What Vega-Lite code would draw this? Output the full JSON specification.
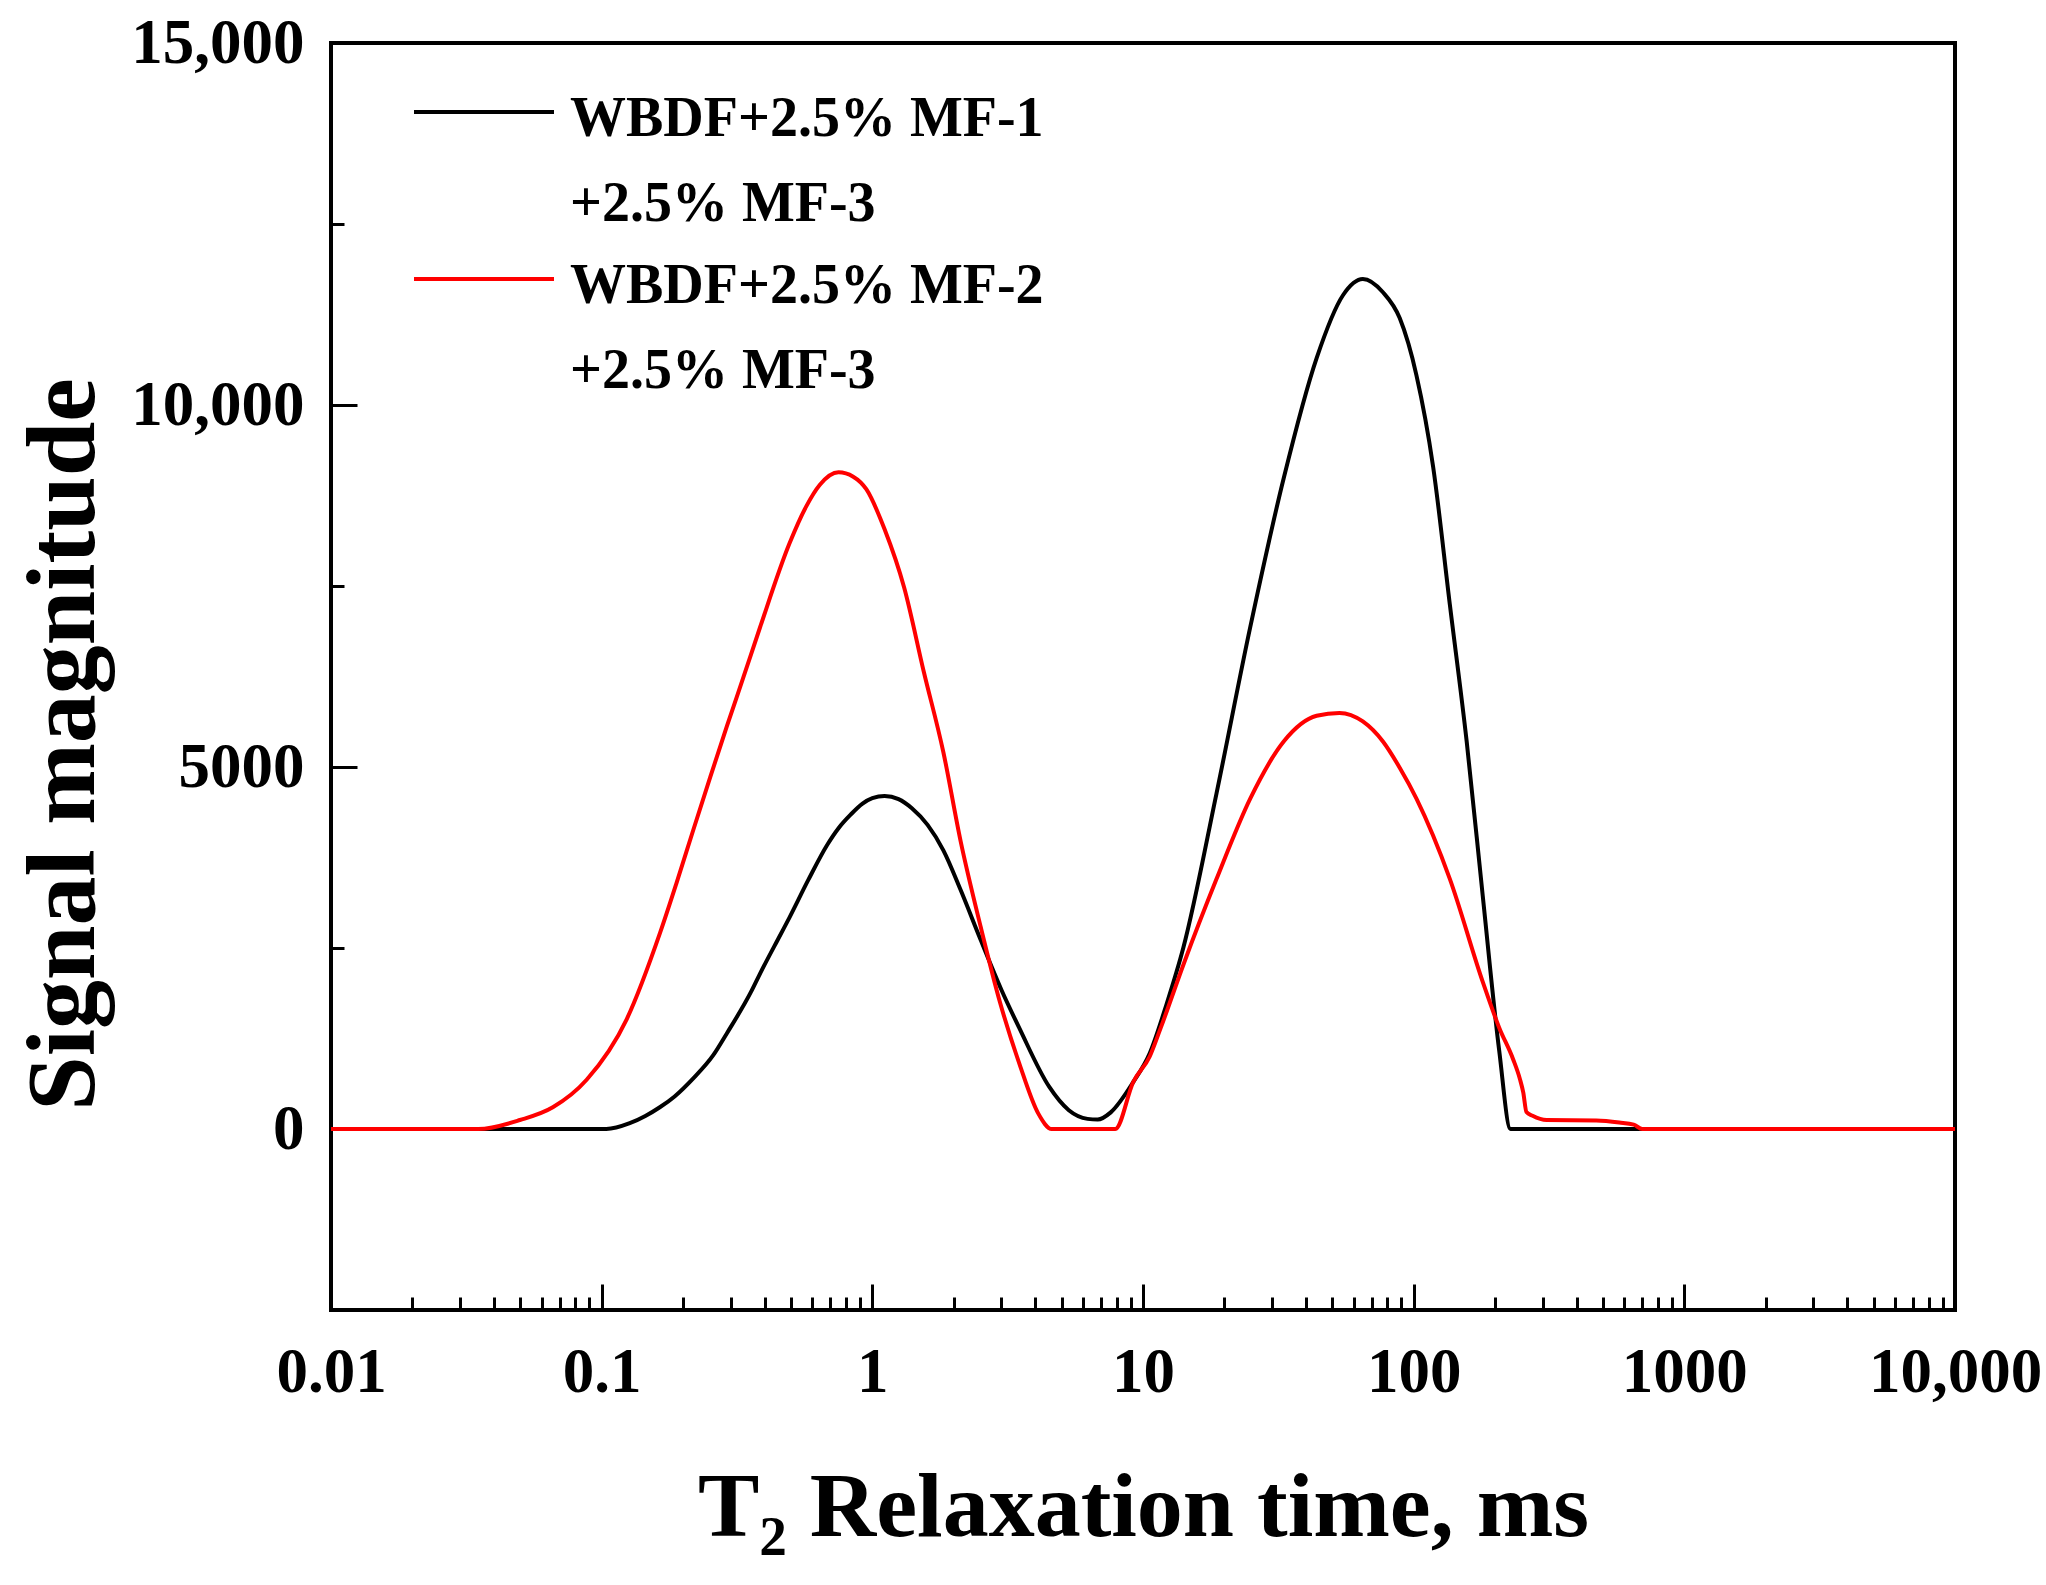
{
  "$schema": "https://vega.github.io/schema/vega-lite/v6.json",
  "autosize": "none",
  "width": 1624,
  "height": 1267,
  "padding": {"left": 331, "top": 43, "right": 91, "bottom": 275},
  "background": "white",
  "config": {
    "font": "Liberation Serif",
    "view": {"stroke": "black", "strokeWidth": 4},
    "style": {"guide-label": {"lineHeight": 85}},
    "axis": {
      "grid": false,
      "domain": false,
      "tickColor": "black",
      "tickWidth": 3,
      "labelFont": "Liberation Serif",
      "labelFontWeight": "bold",
      "labelFontSize": 63,
      "labelColor": "black",
      "labelFlush": false,
      "labelOverlap": false,
      "titleFont": "Liberation Serif",
      "titleFontWeight": "bold",
      "titleColor": "black"
    },
    "legend": {
      "labelFont": "Liberation Serif",
      "labelFontWeight": "bold",
      "labelFontSize": 56,
      "labelColor": "black"
    }
  },
  "data": {
    "values": [
      {"t": 0.01, "s": 0, "series": "WBDF+2.5% MF-1 +2.5% MF-3"},
      {"t": 0.05, "s": 0, "series": "WBDF+2.5% MF-1 +2.5% MF-3"},
      {"t": 0.104, "s": 0, "series": "WBDF+2.5% MF-1 +2.5% MF-3"},
      {"t": 0.127, "s": 80, "series": "WBDF+2.5% MF-1 +2.5% MF-3"},
      {"t": 0.145, "s": 180, "series": "WBDF+2.5% MF-1 +2.5% MF-3"},
      {"t": 0.164, "s": 300, "series": "WBDF+2.5% MF-1 +2.5% MF-3"},
      {"t": 0.186, "s": 450, "series": "WBDF+2.5% MF-1 +2.5% MF-3"},
      {"t": 0.218, "s": 700, "series": "WBDF+2.5% MF-1 +2.5% MF-3"},
      {"t": 0.258, "s": 1016, "series": "WBDF+2.5% MF-1 +2.5% MF-3"},
      {"t": 0.29, "s": 1320, "series": "WBDF+2.5% MF-1 +2.5% MF-3"},
      {"t": 0.357, "s": 1900, "series": "WBDF+2.5% MF-1 +2.5% MF-3"},
      {"t": 0.384, "s": 2140, "series": "WBDF+2.5% MF-1 +2.5% MF-3"},
      {"t": 0.457, "s": 2680, "series": "WBDF+2.5% MF-1 +2.5% MF-3"},
      {"t": 0.494, "s": 2920, "series": "WBDF+2.5% MF-1 +2.5% MF-3"},
      {"t": 0.58, "s": 3440, "series": "WBDF+2.5% MF-1 +2.5% MF-3"},
      {"t": 0.68, "s": 3920, "series": "WBDF+2.5% MF-1 +2.5% MF-3"},
      {"t": 0.75, "s": 4155, "series": "WBDF+2.5% MF-1 +2.5% MF-3"},
      {"t": 0.833, "s": 4345, "series": "WBDF+2.5% MF-1 +2.5% MF-3"},
      {"t": 0.92, "s": 4494, "series": "WBDF+2.5% MF-1 +2.5% MF-3"},
      {"t": 1.0, "s": 4570, "series": "WBDF+2.5% MF-1 +2.5% MF-3"},
      {"t": 1.11, "s": 4600, "series": "WBDF+2.5% MF-1 +2.5% MF-3"},
      {"t": 1.25, "s": 4556, "series": "WBDF+2.5% MF-1 +2.5% MF-3"},
      {"t": 1.4, "s": 4430, "series": "WBDF+2.5% MF-1 +2.5% MF-3"},
      {"t": 1.6, "s": 4200, "series": "WBDF+2.5% MF-1 +2.5% MF-3"},
      {"t": 1.83, "s": 3849, "series": "WBDF+2.5% MF-1 +2.5% MF-3"},
      {"t": 2.12, "s": 3300, "series": "WBDF+2.5% MF-1 +2.5% MF-3"},
      {"t": 2.51, "s": 2617, "series": "WBDF+2.5% MF-1 +2.5% MF-3"},
      {"t": 3.0, "s": 1920, "series": "WBDF+2.5% MF-1 +2.5% MF-3"},
      {"t": 3.5, "s": 1386, "series": "WBDF+2.5% MF-1 +2.5% MF-3"},
      {"t": 4.5, "s": 585, "series": "WBDF+2.5% MF-1 +2.5% MF-3"},
      {"t": 5.32, "s": 260, "series": "WBDF+2.5% MF-1 +2.5% MF-3"},
      {"t": 6.24, "s": 140, "series": "WBDF+2.5% MF-1 +2.5% MF-3"},
      {"t": 6.8, "s": 130, "series": "WBDF+2.5% MF-1 +2.5% MF-3"},
      {"t": 7.6, "s": 230, "series": "WBDF+2.5% MF-1 +2.5% MF-3"},
      {"t": 9.2, "s": 647, "series": "WBDF+2.5% MF-1 +2.5% MF-3"},
      {"t": 10.6, "s": 1050, "series": "WBDF+2.5% MF-1 +2.5% MF-3"},
      {"t": 12.2, "s": 1716, "series": "WBDF+2.5% MF-1 +2.5% MF-3"},
      {"t": 14.1, "s": 2506, "series": "WBDF+2.5% MF-1 +2.5% MF-3"},
      {"t": 18.7, "s": 4640, "series": "WBDF+2.5% MF-1 +2.5% MF-3"},
      {"t": 24.9, "s": 6932, "series": "WBDF+2.5% MF-1 +2.5% MF-3"},
      {"t": 33.1, "s": 8988, "series": "WBDF+2.5% MF-1 +2.5% MF-3"},
      {"t": 43.8, "s": 10648, "series": "WBDF+2.5% MF-1 +2.5% MF-3"},
      {"t": 54.8, "s": 11516, "series": "WBDF+2.5% MF-1 +2.5% MF-3"},
      {"t": 64.9, "s": 11740, "series": "WBDF+2.5% MF-1 +2.5% MF-3"},
      {"t": 77, "s": 11557, "series": "WBDF+2.5% MF-1 +2.5% MF-3"},
      {"t": 88.8, "s": 11200, "series": "WBDF+2.5% MF-1 +2.5% MF-3"},
      {"t": 102.4, "s": 10410, "series": "WBDF+2.5% MF-1 +2.5% MF-3"},
      {"t": 118, "s": 9148, "series": "WBDF+2.5% MF-1 +2.5% MF-3"},
      {"t": 136, "s": 7248, "series": "WBDF+2.5% MF-1 +2.5% MF-3"},
      {"t": 157, "s": 5352, "series": "WBDF+2.5% MF-1 +2.5% MF-3"},
      {"t": 180, "s": 3218, "series": "WBDF+2.5% MF-1 +2.5% MF-3"},
      {"t": 207, "s": 1084, "series": "WBDF+2.5% MF-1 +2.5% MF-3"},
      {"t": 228, "s": 0, "series": "WBDF+2.5% MF-1 +2.5% MF-3"},
      {"t": 1000, "s": 0, "series": "WBDF+2.5% MF-1 +2.5% MF-3"},
      {"t": 10000, "s": 0, "series": "WBDF+2.5% MF-1 +2.5% MF-3"},

      {"t": 0.01, "s": 0, "series": "WBDF+2.5% MF-2 +2.5% MF-3"},
      {"t": 0.035, "s": 0, "series": "WBDF+2.5% MF-2 +2.5% MF-3"},
      {"t": 0.0499, "s": 124, "series": "WBDF+2.5% MF-2 +2.5% MF-3"},
      {"t": 0.066, "s": 300, "series": "WBDF+2.5% MF-2 +2.5% MF-3"},
      {"t": 0.088, "s": 680, "series": "WBDF+2.5% MF-2 +2.5% MF-3"},
      {"t": 0.1237, "s": 1515, "series": "WBDF+2.5% MF-2 +2.5% MF-3"},
      {"t": 0.1643, "s": 2708, "series": "WBDF+2.5% MF-2 +2.5% MF-3"},
      {"t": 0.189, "s": 3396, "series": "WBDF+2.5% MF-2 +2.5% MF-3"},
      {"t": 0.218, "s": 4130, "series": "WBDF+2.5% MF-2 +2.5% MF-3"},
      {"t": 0.252, "s": 4864, "series": "WBDF+2.5% MF-2 +2.5% MF-3"},
      {"t": 0.29, "s": 5560, "series": "WBDF+2.5% MF-2 +2.5% MF-3"},
      {"t": 0.334, "s": 6240, "series": "WBDF+2.5% MF-2 +2.5% MF-3"},
      {"t": 0.384, "s": 6920, "series": "WBDF+2.5% MF-2 +2.5% MF-3"},
      {"t": 0.494, "s": 8086, "series": "WBDF+2.5% MF-2 +2.5% MF-3"},
      {"t": 0.57, "s": 8600, "series": "WBDF+2.5% MF-2 +2.5% MF-3"},
      {"t": 0.64, "s": 8898, "series": "WBDF+2.5% MF-2 +2.5% MF-3"},
      {"t": 0.75, "s": 9070, "series": "WBDF+2.5% MF-2 +2.5% MF-3"},
      {"t": 0.85, "s": 9010, "series": "WBDF+2.5% MF-2 +2.5% MF-3"},
      {"t": 0.95, "s": 8837, "series": "WBDF+2.5% MF-2 +2.5% MF-3"},
      {"t": 1.11, "s": 8283, "series": "WBDF+2.5% MF-2 +2.5% MF-3"},
      {"t": 1.31, "s": 7482, "series": "WBDF+2.5% MF-2 +2.5% MF-3"},
      {"t": 1.55, "s": 6312, "series": "WBDF+2.5% MF-2 +2.5% MF-3"},
      {"t": 1.83, "s": 5204, "series": "WBDF+2.5% MF-2 +2.5% MF-3"},
      {"t": 2.12, "s": 3972, "series": "WBDF+2.5% MF-2 +2.5% MF-3"},
      {"t": 2.51, "s": 2802, "series": "WBDF+2.5% MF-2 +2.5% MF-3"},
      {"t": 2.96, "s": 1755, "series": "WBDF+2.5% MF-2 +2.5% MF-3"},
      {"t": 3.5, "s": 893, "series": "WBDF+2.5% MF-2 +2.5% MF-3"},
      {"t": 4.1, "s": 216, "series": "WBDF+2.5% MF-2 +2.5% MF-3"},
      {"t": 4.6, "s": 0, "series": "WBDF+2.5% MF-2 +2.5% MF-3"},
      {"t": 7.9, "s": 0, "series": "WBDF+2.5% MF-2 +2.5% MF-3"},
      {"t": 9.2, "s": 647, "series": "WBDF+2.5% MF-2 +2.5% MF-3"},
      {"t": 10.6, "s": 1005, "series": "WBDF+2.5% MF-2 +2.5% MF-3"},
      {"t": 11.6, "s": 1386, "series": "WBDF+2.5% MF-2 +2.5% MF-3"},
      {"t": 14.1, "s": 2269, "series": "WBDF+2.5% MF-2 +2.5% MF-3"},
      {"t": 18.7, "s": 3455, "series": "WBDF+2.5% MF-2 +2.5% MF-3"},
      {"t": 24.9, "s": 4563, "series": "WBDF+2.5% MF-2 +2.5% MF-3"},
      {"t": 33.1, "s": 5352, "series": "WBDF+2.5% MF-2 +2.5% MF-3"},
      {"t": 43.8, "s": 5707, "series": "WBDF+2.5% MF-2 +2.5% MF-3"},
      {"t": 53.2, "s": 5747, "series": "WBDF+2.5% MF-2 +2.5% MF-3"},
      {"t": 64.9, "s": 5629, "series": "WBDF+2.5% MF-2 +2.5% MF-3"},
      {"t": 77, "s": 5352, "series": "WBDF+2.5% MF-2 +2.5% MF-3"},
      {"t": 88.8, "s": 4990, "series": "WBDF+2.5% MF-2 +2.5% MF-3"},
      {"t": 102.4, "s": 4563, "series": "WBDF+2.5% MF-2 +2.5% MF-3"},
      {"t": 136, "s": 3455, "series": "WBDF+2.5% MF-2 +2.5% MF-3"},
      {"t": 180, "s": 2032, "series": "WBDF+2.5% MF-2 +2.5% MF-3"},
      {"t": 207, "s": 1400, "series": "WBDF+2.5% MF-2 +2.5% MF-3"},
      {"t": 233, "s": 964, "series": "WBDF+2.5% MF-2 +2.5% MF-3"},
      {"t": 247, "s": 688, "series": "WBDF+2.5% MF-2 +2.5% MF-3"},
      {"t": 254, "s": 505, "series": "WBDF+2.5% MF-2 +2.5% MF-3"},
      {"t": 261, "s": 234, "series": "WBDF+2.5% MF-2 +2.5% MF-3"},
      {"t": 275, "s": 183, "series": "WBDF+2.5% MF-2 +2.5% MF-3"},
      {"t": 310, "s": 124, "series": "WBDF+2.5% MF-2 +2.5% MF-3"},
      {"t": 473, "s": 118, "series": "WBDF+2.5% MF-2 +2.5% MF-3"},
      {"t": 575, "s": 90, "series": "WBDF+2.5% MF-2 +2.5% MF-3"},
      {"t": 650, "s": 60, "series": "WBDF+2.5% MF-2 +2.5% MF-3"},
      {"t": 700, "s": 0, "series": "WBDF+2.5% MF-2 +2.5% MF-3"},
      {"t": 10000, "s": 0, "series": "WBDF+2.5% MF-2 +2.5% MF-3"}
    ]
  },
  "layer": [
    {
      "mark": {"type": "line", "strokeWidth": 4, "interpolate": "monotone", "clip": true},
      "encoding": {
        "x": {
          "field": "t",
          "type": "quantitative",
          "scale": {"type": "log", "domain": [0.01, 10000]},
          "axis": {
            "orient": "bottom",
            "offset": -26,
            "tickSize": 26,
            "values": [0.01, 0.1, 1, 10, 100, 1000, 10000],
            "labelExpr": "datum.value == 10000 ? '10,000' : '' + datum.value",
            "labelPadding": 31,
            "title": "T₂ Relaxation time, ms",
            "titleFontSize": 92,
            "titlePadding": 58
          }
        },
        "y": {
          "field": "s",
          "type": "quantitative",
          "scale": {"domain": [-2500, 15000], "nice": false, "zero": false},
          "axis": {
            "orient": "left",
            "offset": -26,
            "tickSize": 26,
            "values": [0, 5000, 10000, 15000],
            "labelExpr": "datum.value >= 10000 ? format(datum.value, ',') : format(datum.value, 'd')",
            "labelPadding": 27,
            "title": "Signal magnitude",
            "titleFontSize": 98,
            "titlePadding": 43,
            "titleY": 701
          }
        },
        "color": {
          "field": "series",
          "type": "nominal",
          "scale": {"domain": ["WBDF+2.5% MF-1 +2.5% MF-3", "WBDF+2.5% MF-2 +2.5% MF-3"], "range": ["#000000", "#ff0000"]},
          "legend": {
            "title": null,
            "orient": "none",
            "legendX": 116,
            "legendY": 39,
            "symbolType": "M-2,-0.2H2",
            "symbolSize": 4900,
            "symbolStrokeWidth": 4,
            "labelOffset": 49,
            "labelLimit": 0,
            "labelBaseline": "middle",
            "rowPadding": 17,
            "labelExpr": "[slice(datum.label, 0, 14), slice(datum.label, 15)]"
          }
        }
      }
    },
    {
      "mark": {"type": "point", "opacity": 0},
      "encoding": {
        "x": {
          "field": "t",
          "type": "quantitative",
          "axis": {
            "orient": "bottom",
            "offset": -13,
            "tickSize": 13,
            "labels": false,
            "title": null,
            "values": [0.02, 0.03, 0.04, 0.05, 0.06, 0.07, 0.08, 0.09,
                       0.2, 0.3, 0.4, 0.5, 0.6, 0.7, 0.8, 0.9,
                       2, 3, 4, 5, 6, 7, 8, 9,
                       20, 30, 40, 50, 60, 70, 80, 90,
                       200, 300, 400, 500, 600, 700, 800, 900,
                       2000, 3000, 4000, 5000, 6000, 7000, 8000, 9000]
          }
        },
        "y": {
          "field": "s",
          "type": "quantitative",
          "axis": {
            "orient": "left",
            "offset": -13,
            "tickSize": 13,
            "labels": false,
            "title": null,
            "values": [2500, 7500, 12500]
          }
        }
      }
    }
  ],
  "resolve": {"axis": {"x": "independent", "y": "independent"}}
}
